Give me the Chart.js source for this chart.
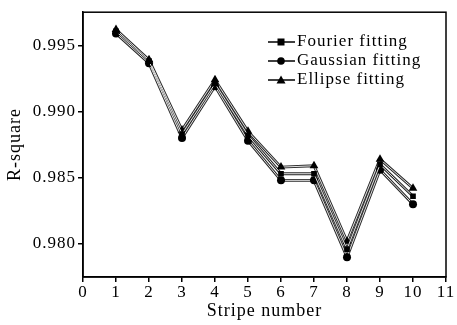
<!DOCTYPE html>
<html>
<head>
<meta charset="utf-8">
<script src="https://cdn.jsdelivr.net/npm/chart.js@4"></script>
<style>
  html, body { margin: 0; padding: 0; background: #fff; }
  #wrap { width: 457px; height: 325px; }
</style>
</head>
<body>
<div id="wrap"><canvas id="c" width="457" height="325"></canvas></div>
<script>
// stripe numbers and R-square values
const stripes = [1, 2, 3, 4, 5, 6, 7, 8, 9, 10];
const fourier  = [0.99605, 0.9938, 0.9883, 0.9921, 0.9882, 0.9853, 0.9853, 0.9796, 0.9860, 0.9836];
const gaussian = [0.9959, 0.99365, 0.9880, 0.9919, 0.9878, 0.9848, 0.9848, 0.9790, 0.9856, 0.9830];
const ellipse  = [0.9962, 0.9939, 0.9886, 0.9924, 0.9885, 0.9858, 0.9859, 0.9802, 0.9864, 0.9842];
const seriesNames = ['Fourier fitting', 'Gaussian fitting', 'Ellipse fitting'];
const yTickValues = [0.980, 0.985, 0.990, 0.995];

const serif = '"Liberation Serif", "DejaVu Serif", serif';
const markers = ['rect', 'circle', 'triangle'];
const allSeries = [fourier, gaussian, ellipse];

function pts(arr) {
  return arr.map((v, i) => ({ x: stripes[i], y: v }));
}

// each line drawn as a dark stroke with a light stroke on top (tube look)
const datasets = [];
allSeries.forEach((arr, i) => {
  datasets.push({
    label: seriesNames[i] + ' base',
    data: pts(arr),
    borderColor: '#2a2a2a',
    borderWidth: 2.8,
    pointRadius: 0,
    order: 3
  });
  datasets.push({
    label: seriesNames[i],
    data: pts(arr),
    borderColor: '#e2e2e2',
    borderWidth: 1,
    pointStyle: markers[i],
    pointRadius: i === 2 ? 5 : 4,
    pointBackgroundColor: '#000',
    pointBorderColor: '#000',
    pointBorderWidth: 0,
    order: 1
  });
});

// box around the plot + in-plot legend
const frame = {
  id: 'frame',
  beforeDraw(chart) {
    chart.ctx.letterSpacing = '1px';
  },
  afterDraw(chart) {
    const { ctx, chartArea: a } = chart;
    ctx.save();
    ctx.strokeStyle = '#000';
    ctx.lineWidth = 1.5;
    ctx.strokeRect(a.left, a.top, a.right - a.left, a.bottom - a.top);

    const rows = [42, 61, 80];
    ctx.font = '17px ' + serif;
    ctx.letterSpacing = '1px';
    ctx.textBaseline = 'middle';
    ctx.textAlign = 'left';
    seriesNames.forEach((name, i) => {
      const y = rows[i];
      ctx.strokeStyle = '#000';
      ctx.lineWidth = 1.5;
      ctx.beginPath();
      ctx.moveTo(268, y);
      ctx.lineTo(295, y);
      ctx.stroke();
      ctx.fillStyle = '#000';
      if (markers[i] === 'rect') {
        ctx.fillRect(277.5, y - 3.5, 7, 7);
      } else if (markers[i] === 'circle') {
        ctx.beginPath();
        ctx.arc(281, y, 3.8, 0, Math.PI * 2);
        ctx.fill();
      } else {
        ctx.beginPath();
        ctx.moveTo(281, y - 4.5);
        ctx.lineTo(285.5, y + 3.5);
        ctx.lineTo(276.5, y + 3.5);
        ctx.closePath();
        ctx.fill();
      }
      ctx.fillText(name, 297, y);
    });
    ctx.restore();
  }
};

new Chart(document.getElementById('c').getContext('2d'), {
  type: 'line',
  data: { datasets },
  plugins: [frame],
  options: {
    responsive: false,
    animation: false,
    layout: { padding: { top: 12, right: 11, left: 0, bottom: 0 } },
    plugins: {
      legend: { display: false },
      tooltip: { enabled: false }
    },
    scales: {
      x: {
        type: 'linear',
        min: 0,
        max: 11,
        ticks: { stepSize: 1, color: '#000', font: { family: serif, size: 17 }, padding: 0, maxRotation: 0 },
        grid: { drawOnChartArea: false, drawTicks: true, tickLength: 5, color: '#000', lineWidth: 1.5 },
        border: { display: true, color: '#000', width: 1.5 },
        title: { display: true, text: 'Stripe number', color: '#000', font: { family: serif, size: 18 }, padding: { top: 0, bottom: 3 } },
        afterFit(s) { s.height = 48; }
      },
      y: {
        min: 0.9775,
        max: 0.9975,
        afterBuildTicks(s) { s.ticks = yTickValues.map(v => ({ value: v })); },
        ticks: { color: '#000', font: { family: serif, size: 17 }, padding: 2, callback: v => v.toFixed(3) },
        grid: { drawOnChartArea: false, drawTicks: true, tickLength: 5, color: '#000', lineWidth: 1.5 },
        border: { display: true, color: '#000', width: 1.5 },
        title: { display: true, text: 'R-square', color: '#000', font: { family: serif, size: 18 }, padding: { top: 4, bottom: 0 } },
        afterFit(s) { s.width = 83; }
      }
    }
  }
});
</script>
</body>
</html>
